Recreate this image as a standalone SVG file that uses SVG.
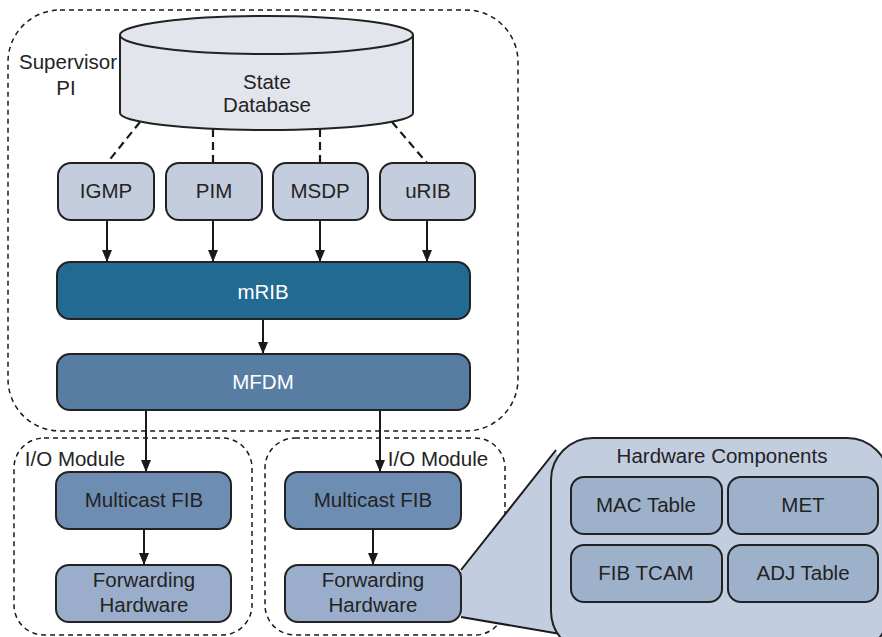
<svg xmlns="http://www.w3.org/2000/svg" width="882" height="637" viewBox="0 0 882 637">
<defs>
<marker id="ah" viewBox="0 0 12 10" refX="12" refY="5" markerWidth="12" markerHeight="10" markerUnits="userSpaceOnUse" orient="auto">
<path d="M0,0 L12,5 L0,10 Z" fill="#1a1a1a"/>
</marker>
<style>
text{font-family:"Liberation Sans",Arial,sans-serif;font-size:20.5px;fill:#232323;text-anchor:middle}
.w{fill:#ffffff}
.dash{fill:none;stroke:#1a1a1a;stroke-width:1.5;stroke-dasharray:5 4}
.cd{fill:none;stroke:#1a1a1a;stroke-width:2.2;stroke-dasharray:8 5}
.box{stroke:#222;stroke-width:2}
.sm{fill:#c3cddd}
.fib{fill:#6e8db3}
.fh{fill:#9aaecb}
.in{fill:#9eb1cb}
.ln{stroke:#1a1a1a;stroke-width:2;fill:none}
</style>
</defs>
<g id="supervisor">
<rect class="dash" x="8" y="10" width="510" height="421" rx="52"/>
<text x="68" y="69">Supervisor</text>
<text x="66" y="95">PI</text>
</g>
<g id="io1">
<rect class="dash" x="14" y="438" width="238" height="197" rx="30"/>
<text x="75" y="466">I/O Module</text>
</g>
<g id="io2">
<rect class="dash" x="265" y="438" width="240" height="197" rx="30"/>
<text x="438" y="466">I/O Module</text>
</g>
<g id="connectors">
<line class="cd" x1="140" y1="122" x2="107" y2="163"/>
<line class="cd" x1="213" y1="129" x2="213" y2="163"/>
<line class="cd" x1="320" y1="129" x2="320" y2="163"/>
<line class="cd" x1="392" y1="122" x2="427" y2="163"/>
<line class="ln" x1="107" y1="220" x2="107" y2="262" marker-end="url(#ah)"/>
<line class="ln" x1="213" y1="220" x2="213" y2="262" marker-end="url(#ah)"/>
<line class="ln" x1="320" y1="220" x2="320" y2="262" marker-end="url(#ah)"/>
<line class="ln" x1="427" y1="220" x2="427" y2="262" marker-end="url(#ah)"/>
<line class="ln" x1="263" y1="319" x2="263" y2="354" marker-end="url(#ah)"/>
<line class="ln" x1="146" y1="410" x2="146" y2="472" marker-end="url(#ah)"/>
<line class="ln" x1="380" y1="410" x2="380" y2="472" marker-end="url(#ah)"/>
<line class="ln" x1="144" y1="529" x2="144" y2="565" marker-end="url(#ah)"/>
<line class="ln" x1="373" y1="529" x2="373" y2="565" marker-end="url(#ah)"/>
</g>
<g id="state-db">
<path class="box" fill="#e2e5ec" d="M120,35 L120,113 A146.5,17 0 0 0 413,113 L413,35"/>
<ellipse class="box" fill="#e2e5ec" cx="266.5" cy="35" rx="146.5" ry="19"/>
<text x="267" y="89">State</text>
<text x="267" y="112">Database</text>
</g>
<g id="igmp"><rect class="box sm" x="58" y="163" width="96" height="57" rx="13"/><text x="106" y="198">IGMP</text></g>
<g id="pim"><rect class="box sm" x="166" y="163" width="96" height="57" rx="13"/><text x="214" y="198">PIM</text></g>
<g id="msdp"><rect class="box sm" x="273" y="163" width="95" height="57" rx="13"/><text x="320" y="198">MSDP</text></g>
<g id="urib"><rect class="box sm" x="380" y="163" width="95" height="57" rx="13"/><text x="428" y="198">uRIB</text></g>
<g id="mrib"><rect class="box" fill="#236a93" x="57" y="262" width="413" height="57" rx="13"/><text class="w" x="263" y="299">mRIB</text></g>
<g id="mfdm"><rect class="box" fill="#577da3" x="57" y="354" width="413" height="56" rx="13"/><text class="w" x="263" y="389">MFDM</text></g>
<g id="mfib1"><rect class="box fib" x="56" y="472" width="175" height="57" rx="13"/><text x="144" y="507">Multicast FIB</text></g>
<g id="fh1"><rect class="box fh" x="56" y="565" width="175" height="57" rx="13"/><text x="144" y="587">Forwarding</text><text x="144" y="612">Hardware</text></g>
<g id="mfib2"><rect class="box fib" x="285" y="472" width="176" height="57" rx="13"/><text x="373" y="507">Multicast FIB</text></g>
<g id="callout">
<polygon fill="#c3cde0" points="461,570 556,450 600,637 578,637 461,617"/>
<line class="ln" x1="461" y1="570" x2="556" y2="450"/>
<line class="ln" x1="461" y1="617" x2="578" y2="637"/>
</g>
<g id="fh2"><rect class="box fh" x="285" y="565" width="176" height="57" rx="13"/><text x="373" y="587">Forwarding</text><text x="373" y="612">Hardware</text></g>
<g id="hw">
<rect class="box" fill="#c3cde0" x="551" y="438" width="338" height="215" rx="42"/>
<text x="722" y="463">Hardware Components</text>
</g>
<g id="mac"><rect class="box in" x="571" y="477" width="151" height="57" rx="13"/><text x="646" y="512">MAC Table</text></g>
<g id="met"><rect class="box in" x="728" y="477" width="150" height="57" rx="13"/><text x="803" y="512">MET</text></g>
<g id="fibtcam"><rect class="box in" x="571" y="545" width="151" height="57" rx="13"/><text x="646" y="580">FIB TCAM</text></g>
<g id="adj"><rect class="box in" x="728" y="545" width="150" height="57" rx="13"/><text x="803" y="580">ADJ Table</text></g>
</svg>
